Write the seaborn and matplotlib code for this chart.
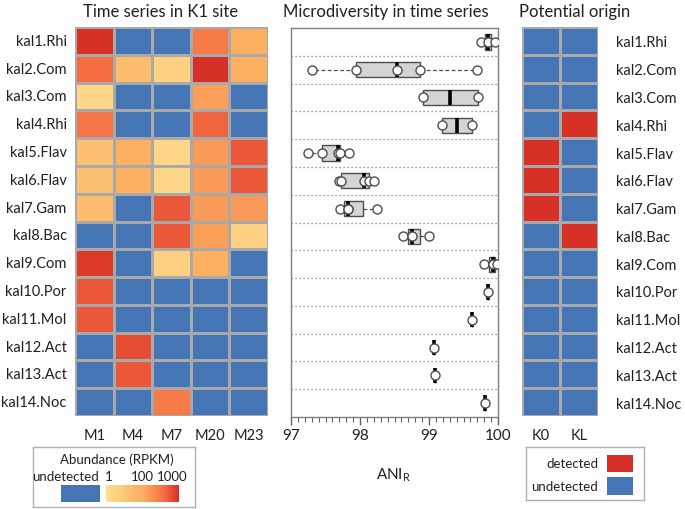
import numpy as np
import pandas as pd
import matplotlib
matplotlib.use("Agg")
import matplotlib.pyplot as plt
import seaborn as sns
from matplotlib.colors import LinearSegmentedColormap, ListedColormap, LogNorm
from matplotlib.patches import Rectangle
from matplotlib.ticker import MultipleLocator

# ---------------- data ----------------
genomes = ["kal1.Rhi", "kal2.Com", "kal3.Com", "kal4.Rhi", "kal5.Flav", "kal6.Flav",
           "kal7.Gam", "kal8.Bac", "kal9.Com", "kal10.Por", "kal11.Mol", "kal12.Act",
           "kal13.Act", "kal14.Noc"]
months = ["M1", "M4", "M7", "M20", "M23"]
origins = ["K0", "KL"]

# abundance (RPKM), 0 = undetected
rpkm_M1 = [1000, 250, 2, 180, 10, 10, 12, 0, 800, 400, 400, 0, 0, 0]
rpkm_M4 = [0, 12, 0, 0, 30, 30, 0, 0, 0, 0, 0, 500, 400, 0]
rpkm_M7 = [0, 3, 0, 0, 2, 2, 400, 400, 3, 0, 0, 0, 0, 170]
rpkm_M20 = [170, 1000, 50, 300, 60, 60, 60, 50, 30, 0, 0, 0, 0, 0]
rpkm_M23 = [30, 30, 0, 0, 400, 400, 60, 3, 0, 0, 0, 0, 0, 0]

# ANI_R per genome (time-series samples)
ani_kal1 = [99.76, 99.86, 99.95]
ani_kal2 = [97.31, 97.94, 98.53, 98.87, 99.69]
ani_kal3 = [98.91, 99.71]
ani_kal4 = [99.19, 99.63]
ani_kal5 = [97.25, 97.45, 97.68, 97.71, 97.84]
ani_kal6 = [97.70, 97.72, 98.06, 98.13, 98.20]
ani_kal7 = [97.71, 97.83, 97.83, 98.25]
ani_kal8 = [98.63, 98.75, 99.00]
ani_kal9 = [99.80, 99.93, 99.98]
ani_kal10 = [99.85]
ani_kal11 = [99.63]
ani_kal12 = [99.07]
ani_kal13 = [99.08]
ani_kal14 = [99.81]
ani_values = [ani_kal1, ani_kal2, ani_kal3, ani_kal4, ani_kal5, ani_kal6, ani_kal7,
              ani_kal8, ani_kal9, ani_kal10, ani_kal11, ani_kal12, ani_kal13, ani_kal14]

# potential origin: 1 = detected
origin_K0 = [0, 0, 0, 0, 1, 1, 1, 0, 0, 0, 0, 0, 0, 0]
origin_KL = [0, 0, 0, 1, 0, 0, 0, 1, 0, 0, 0, 0, 0, 0]

abund_ticks = ["1", "100", "1000"]

# ---------------- style ----------------
sns.set_theme(style="white")
plt.rcParams["font.family"] = ["Lato", "DejaVu Sans"]
plt.rcParams["mathtext.fontset"] = "custom"
plt.rcParams["mathtext.rm"] = "Lato"

BLUE = "#4575b4"
RED = "#d73027"
GRID = "#a9a9a9"
TXT = "#231f20"
FS = 10.5
LFS = 9.5
W, H = 685, 510

cmap_ab = LinearSegmentedColormap.from_list(
    "ab", [(0.0, "#fee090"), (0.5, "#fdae61"), (0.8, "#f46d43"), (1.0, "#d73027")])


def rect(l, t, r, b):
    return [l / W, 1 - b / H, (r - l) / W, (b - t) / H]


fig = plt.figure(figsize=(W / 100, H / 100), dpi=100)

# ---------------- abundance heatmap ----------------
ab = pd.DataFrame({"M1": rpkm_M1, "M4": rpkm_M4, "M7": rpkm_M7,
                   "M20": rpkm_M20, "M23": rpkm_M23}, index=genomes)[months]
det = ab > 0
ax_h = fig.add_axes(rect(75, 28, 268, 417))
sns.heatmap(ab.where(~det, 0) * 0, mask=det, cmap=ListedColormap([BLUE]), cbar=False,
            linewidths=0.9, linecolor=GRID, ax=ax_h)
sns.heatmap(ab.where(det, np.nan), mask=~det, cmap=cmap_ab,
            norm=LogNorm(vmin=1, vmax=1000), cbar=False,
            linewidths=0.9, linecolor=GRID, ax=ax_h)
ax_h.set_xlabel("")
ax_h.set_ylabel("")
ax_h.set_yticklabels(genomes, rotation=0)
ax_h.set_xticklabels(months, rotation=0)
ax_h.tick_params(axis="both", length=0, labelsize=FS, colors=TXT)
ax_h.tick_params(axis="y", pad=6)
ax_h.tick_params(axis="x", pad=9)

# ---------------- microdiversity boxplot ----------------
ax_b = fig.add_axes(rect(291, 29, 498, 418))
long = pd.DataFrame({"genome": [g for g, v in zip(genomes, ani_values) for _ in v],
                     "ani": [x for v in ani_values for x in v]})


def fivenum(x):
    x = np.sort(np.asarray(x, float))
    n = len(x)
    n4 = np.floor((n + 3) / 2) / 2
    d = np.array([1, n4, (n + 1) / 2, n + 1 - n4, n]) - 1
    return 0.5 * (x[np.floor(d).astype(int)] + x[np.ceil(d).astype(int)])


stats = []
for v in ani_values:
    mn, q1, med, q3, mx = fivenum(v)
    iqr = q3 - q1
    arr = np.asarray(v)
    lo = arr[arr >= q1 - 1.5 * iqr].min()
    hi = arr[arr <= q3 + 1.5 * iqr].max()
    stats.append(dict(med=med, q1=q1, q3=q3, whislo=lo, whishi=hi, fliers=[]))

for yb in np.arange(0.5, 13.5, 1.0):
    ax_b.axhline(yb, color="#7a7a7a", lw=0.9, ls=(0, (1, 2.2)), zorder=1)

bkw = dict(positions=list(range(len(genomes))), widths=0.55, patch_artist=True,
           showcaps=False, manage_ticks=False,
           boxprops=dict(facecolor="#d4d4d4", edgecolor="#4d4d4d", linewidth=1.0),
           medianprops=dict(color="black", linewidth=2.6, solid_capstyle="butt"),
           whiskerprops=dict(color="#4d4d4d", linestyle=(0, (3, 2)), linewidth=0.9))
try:
    ax_b.bxp(stats, orientation="horizontal", **bkw)
except TypeError:
    ax_b.bxp(stats, vert=False, **bkw)

sns.stripplot(data=long, x="ani", y="genome", order=genomes, jitter=False,
              color="white", edgecolor="#4d4d4d", linewidth=1.0, size=6.5,
              ax=ax_b, zorder=5)
ax_b.set_ylim(13.5, -0.5)
ax_b.set_xlim(97, 100)
ax_b.set_yticks([])
ax_b.set_ylabel("")
ax_b.set_xlabel("")
ax_b.set_xticks([97, 98, 99, 100])
ax_b.xaxis.set_minor_locator(MultipleLocator(0.1))
ax_b.tick_params(axis="x", which="major", direction="out", length=6, width=1,
                 color="#606060", labelsize=FS + 0.5, labelcolor=TXT, pad=2, bottom=True)
ax_b.tick_params(axis="x", which="minor", direction="out", length=3.5, width=0.8,
                 color="#606060", bottom=True)
for s in ax_b.spines.values():
    s.set_visible(True)
    s.set_color("#7f7f7f")
    s.set_linewidth(1.0)

# ---------------- potential origin ----------------
org = pd.DataFrame({"K0": origin_K0, "KL": origin_KL}, index=genomes)[origins]
ax_o = fig.add_axes(rect(522, 28, 598, 417))
sns.heatmap(org, cmap=ListedColormap([BLUE, RED]), vmin=0, vmax=1, cbar=False,
            linewidths=0.9, linecolor=GRID, ax=ax_o)
ax_o.yaxis.tick_right()
ax_o.set_yticklabels(genomes, rotation=0)
ax_o.set_xticklabels(origins, rotation=0)
ax_o.set_xlabel("")
ax_o.set_ylabel("")
ax_o.tick_params(axis="both", length=0, labelsize=FS, colors=TXT)
ax_o.tick_params(axis="y", pad=13)
ax_o.tick_params(axis="x", pad=9)

# ---------------- titles ----------------
TFS = 12
fig.text(161 / W, 1 - 12 / H, "Time series in K1 site", ha="center", va="center",
         fontsize=TFS, color=TXT)
fig.text(386 / W, 1 - 12 / H, "Microdiversity in time series", ha="center", va="center",
         fontsize=TFS, color=TXT)
fig.text(575 / W, 1 - 12 / H, "Potential origin", ha="center", va="center",
         fontsize=TFS, color=TXT)
fig.text(394 / W, 1 - 475 / H, r"ANI$_\mathregular{R}$", ha="center", va="center",
         fontsize=FS + 0.5, color=TXT)

# ---------------- abundance legend ----------------
lg1 = fig.add_axes(rect(33, 448, 195, 508))
lg1.set_xticks([])
lg1.set_yticks([])
for s in lg1.spines.values():
    s.set_visible(True)
    s.set_color("#b0b0b0")
    s.set_linewidth(1.0)
grad = np.linspace(0, 1, 256)[None, :]
lg1.imshow(grad, cmap=cmap_ab, aspect="auto", extent=(106, 179, 503, 486))
lg1.add_patch(Rectangle((61, 486), 39, 17, facecolor=BLUE, edgecolor="none"))
lg1.set_xlim(33, 195)
lg1.set_ylim(508, 448)
lg1.text(117, 460, "Abundance (RPKM)", ha="center", va="center", fontsize=LFS, color=TXT)
lg1.text(99, 477, "undetected", ha="right", va="center", fontsize=LFS, color=TXT)
for xpos, lab in zip([109, 142, 172], abund_ticks):
    lg1.text(xpos, 477, lab, ha="center", va="center", fontsize=LFS, color=TXT)

# ---------------- origin legend ----------------
lg2 = fig.add_axes(rect(526, 448, 644, 501))
lg2.set_xlim(526, 644)
lg2.set_ylim(501, 448)
lg2.set_xticks([])
lg2.set_yticks([])
for s in lg2.spines.values():
    s.set_visible(True)
    s.set_color("#b0b0b0")
    s.set_linewidth(1.0)
lg2.text(598, 464, "detected", ha="right", va="center", fontsize=LFS, color=TXT)
lg2.text(598, 487, "undetected", ha="right", va="center", fontsize=LFS, color=TXT)
lg2.add_patch(Rectangle((607, 456), 26, 17, facecolor=RED, edgecolor="none"))
lg2.add_patch(Rectangle((607, 478), 26, 18, facecolor=BLUE, edgecolor="none"))

fig.savefig("out.png", dpi=100)
